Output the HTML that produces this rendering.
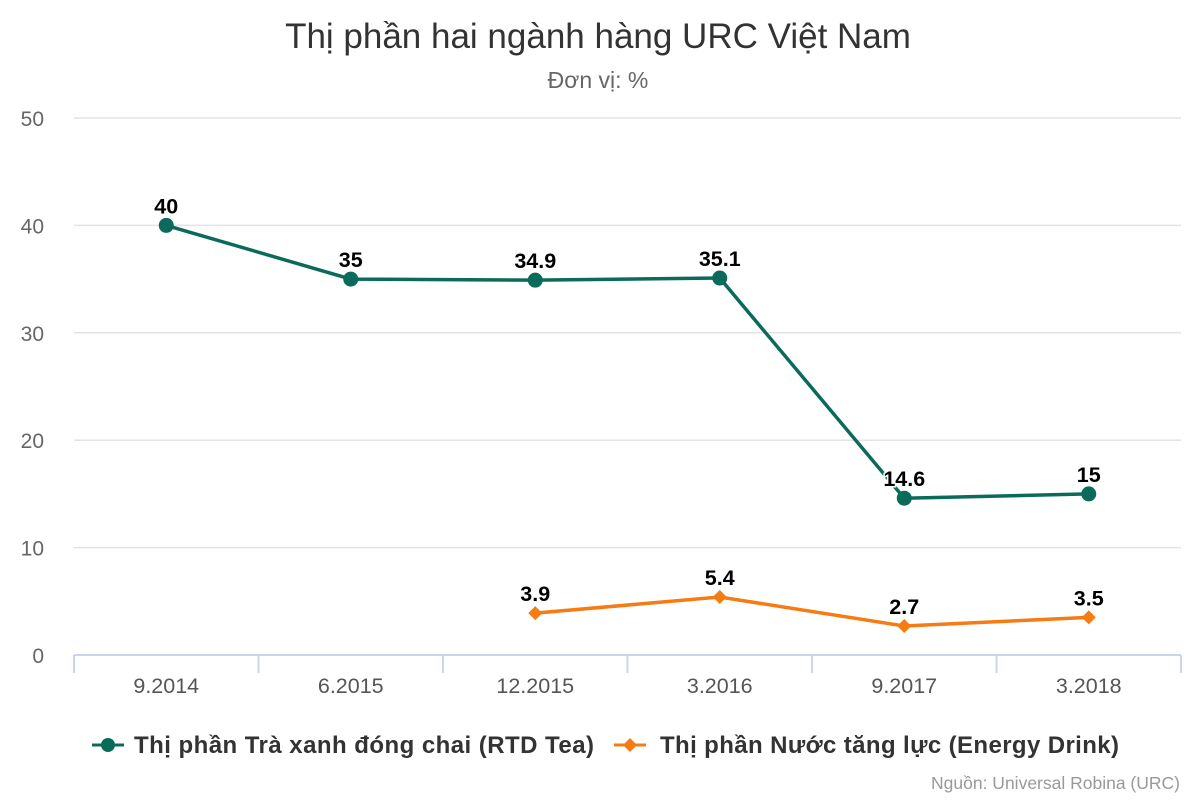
<!DOCTYPE html>
<html><head><meta charset="utf-8"><style>
body{margin:0;background:#fff;font-family:"Liberation Sans","Noto Sans CJK SC",sans-serif}
svg text{font-family:"Liberation Sans","Noto Sans CJK SC",sans-serif}
</style></head><body>
<svg id="c" width="1200" height="800">
<text x="598" y="48" text-anchor="middle" font-size="35" fill="#333">Thị phần hai ngành hàng URC Việt Nam</text>
<text x="598" y="88" text-anchor="middle" font-size="23" fill="#666">Đơn vị: %</text>
<g id="grid"></g><g id="marks"></g>
<g>
<g>
<line x1="92" y1="745" x2="124" y2="745" stroke="#0b6b5b" stroke-width="3"/><circle cx="108" cy="745" r="7" fill="#0b6b5b"/>
<text x="134" y="753" font-size="24" font-weight="bold" fill="#333" textLength="460">Thị phần Trà xanh đóng chai (RTD Tea)</text></g>
<g>
<line x1="614" y1="745" x2="646" y2="745" stroke="#f57b12" stroke-width="3"/><path d="M630 738 L637 745 L630 752 L623 745Z" fill="#f57b12"/>
<text x="660" y="753" font-size="24" font-weight="bold" fill="#333" textLength="459">Thị phần Nước tăng lực (Energy Drink)</text></g>
</g>
<text x="1180" y="789" text-anchor="end" font-size="17.5" fill="#999">Nguồn: Universal Robina (URC)</text>
</svg>
<script>
const categories=["9.2014","6.2015","12.2015","3.2016","9.2017","3.2018"];
const teaValues=[40,35,34.9,35.1,14.6,15];
const energyValues=[null,null,3.9,5.4,2.7,3.5];
const yTicks=[0,10,20,30,40,50];
const NS="http://www.w3.org/2000/svg";
const X0=74,X1=1181,Y0=655,Y50=118;
const band=(X1-X0)/categories.length;
const x=i=>X0+band*(i+0.5);
const y=v=>Y0-(v/50)*(Y0-Y50);
function mk(t,a,p){const e=document.createElementNS(NS,t);for(const k in a)e.setAttribute(k,a[k]);p.appendChild(e);return e;}
const g=document.getElementById('grid'),m=document.getElementById('marks');
yTicks.forEach(v=>{
 if(v>0){const l=mk('line',{x1:X0,x2:X1,y1:y(v),y2:y(v),stroke:'#e3e3e3','stroke-width':1.5},g);
 
 }
 const t=mk('text',{x:44,y:y(v)+8,'text-anchor':'end','font-size':21,fill:'#666'},g);t.textContent=v;
 
 
});
const ax=mk('line',{x1:X0,x2:X1,y1:Y0,y2:Y0,stroke:'#ccd6eb','stroke-width':2},g);


for(let i=0;i<=categories.length;i++){const tk=mk('line',{x1:X0+band*i,x2:X0+band*i,y1:Y0,y2:Y0+18,stroke:'#ccd6eb','stroke-width':2},g);
 
 }
categories.forEach((c,i)=>{const t=mk('text',{x:x(i),y:693,'text-anchor':'middle','font-size':21.5,fill:'#555'},g);t.textContent=c;
 
 });
function series(vals,color,shape,name){
 let d='';vals.forEach((v,i)=>{if(v==null)return;d+=(d?'L':'M')+x(i)+' '+y(v);});
 const p=mk('path',{d:d,fill:'none',stroke:color,'stroke-width':3.5},m);
 
 
 vals.forEach((v,i)=>{if(v==null)return;const cx=x(i),cy=y(v);let e;
  if(shape==='circle')e=mk('circle',{cx:cx,cy:cy,r:7.5,fill:color},m);
  else e=mk('path',{d:`M${cx} ${cy-7}L${cx+7} ${cy}L${cx} ${cy+7}L${cx-7} ${cy}Z`,fill:color},m);
  
  
  const t=mk('text',{x:cx,y:cy-12,'text-anchor':'middle','font-size':21.5,'font-weight':'bold',fill:'#000',stroke:'#fff','stroke-width':3,'paint-order':'stroke'},m);
  t.textContent=v;
  
  
 });
}
series(teaValues,'#0b6b5b','circle','rtd-tea');
series(energyValues,'#f57b12','diamond','energy-drink');
</script>
</body></html>
